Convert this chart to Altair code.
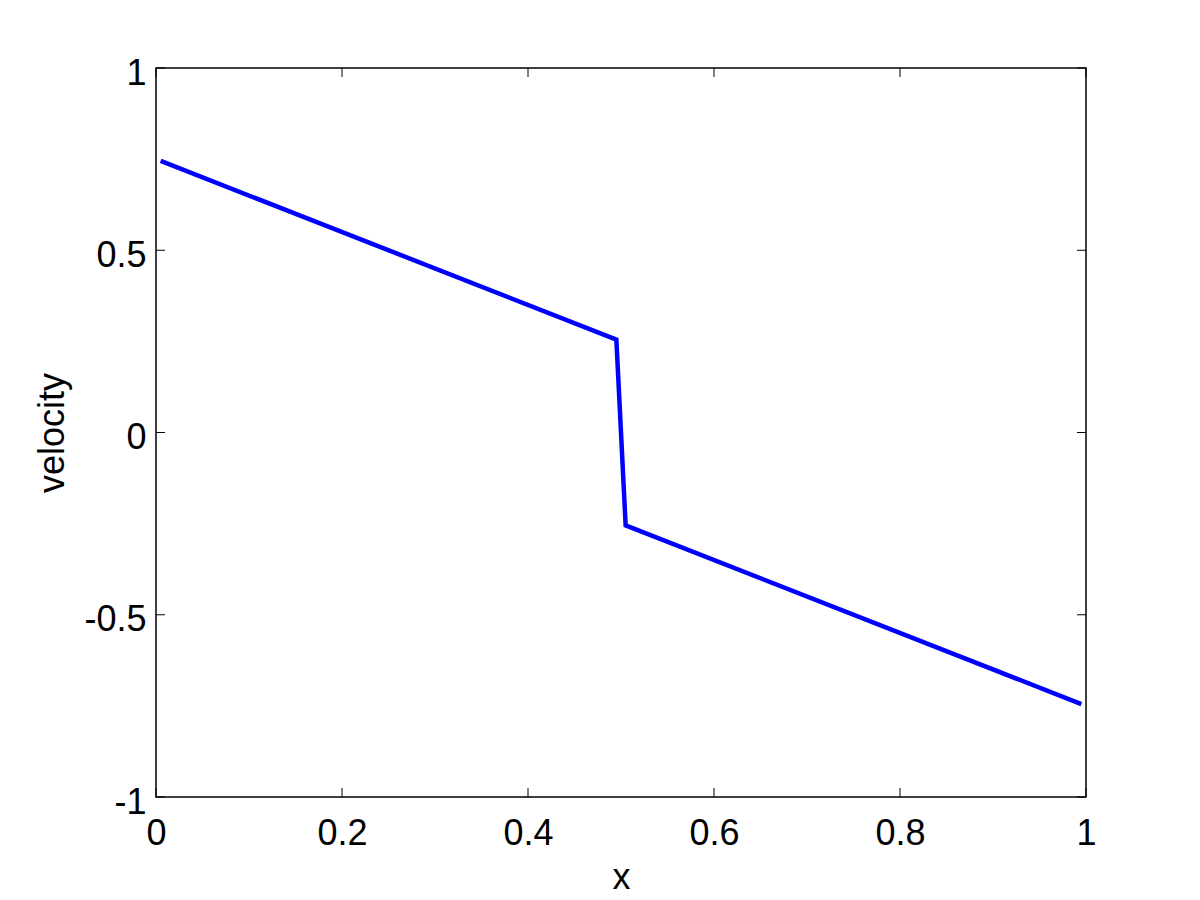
import altair as alt
import pandas as pd

# data
x_vals = [0.005, 0.495, 0.505, 0.995]
velocity = [0.745, 0.255, -0.255, -0.745]
x_ticks = [0, 0.2, 0.4, 0.6, 0.8, 1]
y_ticks = [-1, -0.5, 0, 0.5, 1]

W, H = 930, 729
TICK = 9
FONT = "Liberation Sans"

line_df = pd.DataFrame({"x": x_vals, "velocity": velocity})
xt_df = pd.DataFrame({"x": x_ticks})
yt_df = pd.DataFrame({"velocity": y_ticks})

xscale = alt.Scale(domain=[0, 1], nice=False, zero=False)
yscale = alt.Scale(domain=[-1, 1], nice=False, zero=False)

xaxis = alt.Axis(values=x_ticks, labelExpr="datum.value + ''", ticks=False, domain=False,
                 grid=False, labelFlush=False, labelFontSize=36, labelFont=FONT, labelColor="#000",
                 labelPadding=19, title="x", titleFontSize=36, titleFont=FONT,
                 titleFontWeight="normal", titleColor="#000", titlePadding=9)
yaxis = alt.Axis(values=y_ticks, labelExpr="datum.value + ''", ticks=False, domain=False,
                 grid=False, labelFlush=False, labelOffset=5, labelFontSize=36, labelFont=FONT,
                 labelColor="#000", labelPadding=10, title="velocity", titleFontSize=36,
                 titleFont=FONT, titleFontWeight="normal", titleColor="#000", titlePadding=12)

line = alt.Chart(line_df).mark_line(color="#0000FF", strokeWidth=4.5).encode(
    x=alt.X("x:Q", scale=xscale, axis=xaxis),
    y=alt.Y("velocity:Q", scale=yscale, axis=yaxis),
)

tick_style = dict(color="#000", strokeWidth=1)
xt_bottom = alt.Chart(xt_df).mark_rule(**tick_style).encode(
    x=alt.X("x:Q", scale=xscale), y=alt.value(H), y2=alt.value(H - TICK))
xt_top = alt.Chart(xt_df).mark_rule(**tick_style).encode(
    x=alt.X("x:Q", scale=xscale), y=alt.value(0), y2=alt.value(TICK))
yt_left = alt.Chart(yt_df).mark_rule(**tick_style).encode(
    y=alt.Y("velocity:Q", scale=yscale), x=alt.value(0), x2=alt.value(TICK))
yt_right = alt.Chart(yt_df).mark_rule(**tick_style).encode(
    y=alt.Y("velocity:Q", scale=yscale), x=alt.value(W), x2=alt.value(W - TICK))

chart = alt.layer(xt_bottom, xt_top, yt_left, yt_right, line).properties(
    width=W, height=H,
    background="white",
    autosize=alt.AutoSizeParams(type="none"),
    padding={"left": 148, "top": 60, "right": 80, "bottom": 110},
).configure_view(stroke="#000", strokeWidth=1.5)

chart.save("out.html", embed_options={"renderer": "svg", "actions": False})
